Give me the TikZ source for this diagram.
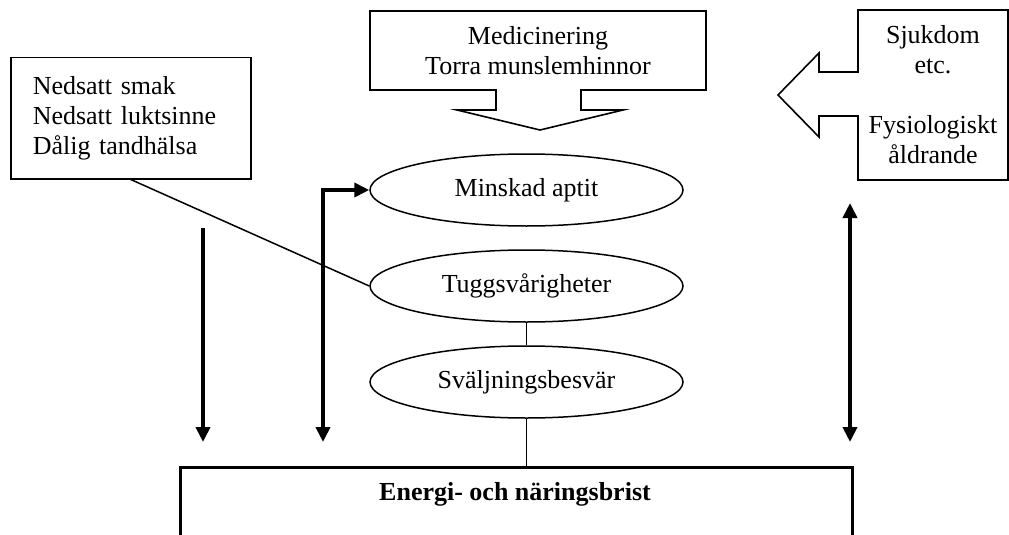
\documentclass[tikz,border=0pt]{standalone}
\usepackage{fontspec}
\setmainfont{Liberation Serif}
\usetikzlibrary{shapes.geometric,arrows.meta}
\begin{document}
\begin{tikzpicture}[x=1pt,y=-1pt,
  every node/.style={font=\fontsize{26}{30}\selectfont},
  thinline/.style={line width=1.5pt},
  oval/.style={draw, ellipse, line width=1.5pt, minimum width=313pt, minimum height=72pt, inner sep=0pt},
  bigarrow/.style={line width=4pt, -{Triangle[length=15pt,width=14pt]}},
  dblarrow/.style={line width=4pt, line join=miter, {Triangle[length=15pt,width=14pt]}-{Triangle[length=15pt,width=14pt]}}
]
\useasboundingbox (0,0) rectangle (1009,535);

% left box
\node[draw, line width=1.5pt, align=left, text width=196pt, inner xsep=22pt,
      minimum height=121pt, anchor=north west] (lbox) at (10,57)
  {Nedsatt smak\\Nedsatt luktsinne\\Dålig tandhälsa};

% top callout (down arrow)
\draw[line width=1.6pt, line join=miter]
  (370,11) -- (706,11) -- (706,90) -- (581,90) -- (581,110) -- (623,110)
  -- (540,130) -- (457,110) -- (496,110) -- (496,90) -- (370,90) -- cycle;
\node[align=center] (med) at (538,50.5) {Medicinering\\Torra munslemhinnor};

% right callout (left arrow)
\draw[line width=1.6pt, line join=miter]
  (1008,10) -- (1008,180) -- (858,180) -- (858,116) -- (819,116) -- (819,137)
  -- (778,95) -- (819,53) -- (819,72) -- (858,72) -- (858,10) -- cycle;
\node[align=center] (sjuk) at (933,95) {Sjukdom\\etc.\\[30pt]Fysiologiskt\\åldrande};

% ellipses
\node[oval] (minskad) at (526.5,190) {Minskad aptit};
\node[oval] (tuggs) at (526.5,286) {Tuggsvårigheter};
\node[oval] (svalj) at (526.5,382) {Sväljningsbesvär};

% bottom box (open at the bottom edge of the picture)
\begin{scope}
  \clip (0,0) rectangle (1009,535);
  \node[draw, line width=3pt, minimum width=672pt, minimum height=120pt,
        anchor=north west, inner sep=0pt] (frame) at (179,466) {};
\end{scope}
\node[font=\fontsize{26}{30}\selectfont\bfseries] (brist) at (515,494) {Energi- och näringsbrist};

% connectors
\draw[thinline] (lbox.south) -- (tuggs.west);
\draw[thinline] (tuggs.south) -- (svalj.north);
\draw[thinline] (svalj.south) -- (svalj.south |- frame.north);

% thick arrows
\coordinate (a1s) at (203,228);
\coordinate (a1e) at (203,442);
\draw[bigarrow] (a1s) -- (a1e);

\coordinate (a2e) at (323,442);
\coordinate (a2c) at (323,190);
\draw[dblarrow] (a2e) -- (a2c) -- (minskad.west);

\coordinate (a3s) at (850,203);
\coordinate (a3e) at (850,442);
\draw[dblarrow] (a3s) -- (a3e);
\end{tikzpicture}
\end{document}
